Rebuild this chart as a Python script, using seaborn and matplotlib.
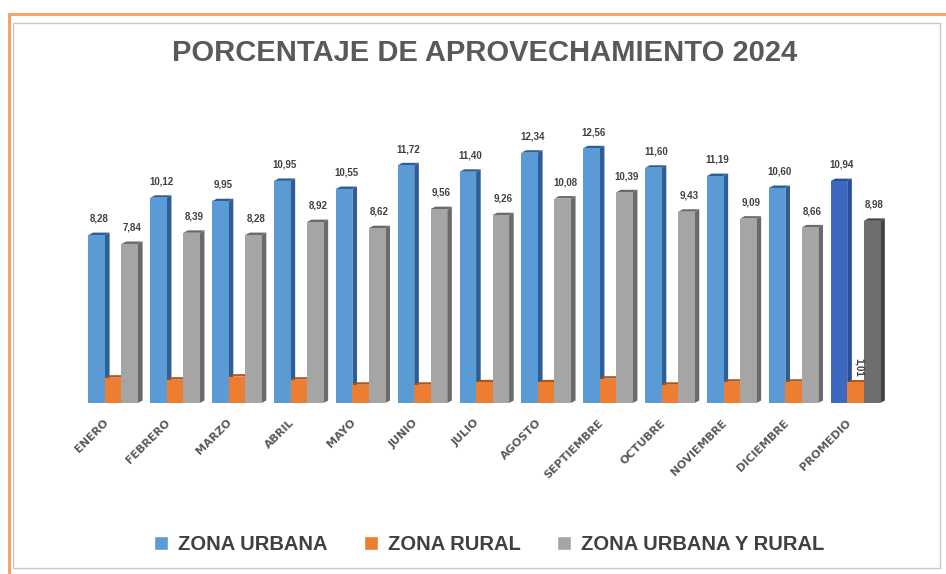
import matplotlib
matplotlib.use("Agg")
import matplotlib.pyplot as plt
import matplotlib.transforms as mtransforms
import seaborn as sns
import pandas as pd
from matplotlib.patches import Polygon, Rectangle

months = ["ENERO", "FEBRERO", "MARZO", "ABRIL", "MAYO", "JUNIO", "JULIO", "AGOSTO",
          "SEPTIEMBRE", "OCTUBRE", "NOVIEMBRE", "DICIEMBRE", "PROMEDIO"]
urbana = [8.28, 10.12, 9.95, 10.95, 10.55, 11.72, 11.40, 12.34, 12.56, 11.60, 11.19, 10.60, 10.94]
rural = [1.25, 1.15, 1.30, 1.15, 0.90, 0.90, 1.02, 1.02, 1.20, 0.90, 1.05, 1.05, 1.01]
total = [7.84, 8.39, 8.28, 8.92, 8.62, 9.56, 9.26, 10.08, 10.39, 9.43, 9.09, 8.66, 8.98]
series = ["ZONA URBANA", "ZONA RURAL", "ZONA URBANA Y RURAL"]

df = pd.DataFrame({
    "mes": months * 3,
    "serie": [series[0]] * 13 + [series[1]] * 13 + [series[2]] * 13,
    "valor": urbana + rural + total,
})

colors = ["#5b9bd5", "#ed7d31", "#a5a5a5"]
prom_colors = ["#3c68c0", "#ed7d31", "#6e6e6e"]
side_colors = ["#2e5e94", "#b0561a", "#6a6a6a"]

sns.set_theme(style="white")
plt.rcParams["font.family"] = ["Liberation Sans", "DejaVu Sans"]

fig = plt.figure(figsize=(9.46, 5.74), dpi=100)
ax = fig.add_axes([0.087, 0.298, 0.85, 0.53])

sns.barplot(data=df, x="mes", y="valor", hue="serie", palette=colors,
            width=0.8, gap=0.0, ax=ax, legend=False, saturation=1)

n = len(months)
txt = "#404040"
for si, cont in enumerate(ax.containers):
    for i, bar in enumerate(cont.patches):
        x0 = bar.get_x(); w = bar.get_width(); h = bar.get_height()
        if i == n - 1:
            bar.set_facecolor(prom_colors[si])
        bar.set_edgecolor("none")
        d = w * 0.28
        dy = 0.12
        sc = side_colors[si] if not (i == n - 1 and si == 0) else "#2a4f9a"
        if i == n - 1 and si == 2:
            sc = "#444444"
        side = Polygon([(x0 + w, 0), (x0 + w + d, dy), (x0 + w + d, h + dy), (x0 + w, h)],
                       closed=True, facecolor=sc, edgecolor="none",
                       zorder=bar.get_zorder() - 0.1)
        ax.add_patch(side)
        top = Polygon([(x0, h), (x0 + d, h + dy), (x0 + w + d, h + dy), (x0 + w, h)],
                      closed=True, facecolor=sc, edgecolor="none",
                      zorder=bar.get_zorder() - 0.1)
        ax.add_patch(top)
        if si in (0, 2):
            ax.text(x0 + w / 2 + 0.04, h + 0.55, f"{h:.2f}".replace(".", ","), ha="center", va="bottom",
                    fontsize=7, fontweight="bold", color=txt)
        elif i == n - 1:
            ax.text(x0 + w / 2 + 0.06, h + 0.3, f"{h:.2f}".replace(".", ","), ha="center", va="bottom",
                    fontsize=7, fontweight="bold", color=txt, rotation=-90)

ax.set_xlim(-0.5, n - 0.5)
ax.set_ylim(0, 15)
ax.set_yticks([])
ax.set_xlabel("")
ax.set_ylabel("")
for s in ax.spines.values():
    s.set_visible(False)
ax.tick_params(axis="x", length=0, pad=9)
ax.set_xticks(range(n))
ax.set_xticklabels(months, rotation=45, ha="right", rotation_mode="anchor",
                   fontsize=8, fontweight="bold", color="#595959", family=["DejaVu Sans"])
offset = mtransforms.ScaledTranslation(-10 / 100, -2 / 100, fig.dpi_scale_trans)
for lbl in ax.get_xticklabels():
    lbl.set_transform(lbl.get_transform() + offset)

fig.text(0.512, 0.907, "PORCENTAJE DE APROVECHAMIENTO 2024", ha="center", va="center",
         fontsize=21, fontweight="bold", color="#595959")

handles = [Rectangle((0, 0), 1, 1, facecolor=c) for c in colors]
fig.legend(handles, series, loc="center", bbox_to_anchor=(0.517, 0.052), ncol=3, frameon=False,
           handlelength=0.7, handleheight=0.7, columnspacing=1.8, handletextpad=0.5,
           labelcolor="#404040", prop={"weight": "bold", "size": 14.5})

fig.patches.append(Rectangle((0.009, -0.01), 1.0, 0.985, transform=fig.transFigure,
                             fill=False, edgecolor="#f0a060", linewidth=2))
fig.patches.append(Rectangle((0.014, 0.01), 0.98, 0.95, transform=fig.transFigure,
                             fill=False, edgecolor="#c8c8c8", linewidth=1))

fig.savefig("out.png", dpi=100, facecolor="white")
